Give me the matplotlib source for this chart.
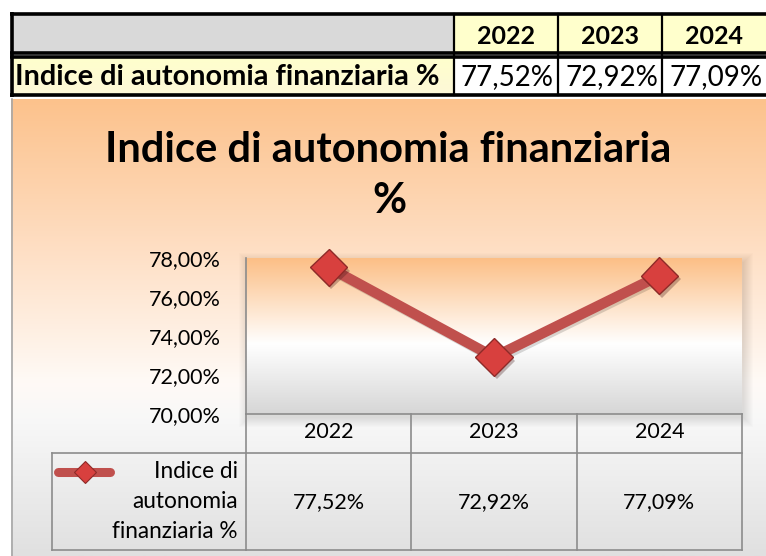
import numpy as np
import matplotlib
matplotlib.use('Agg')
import matplotlib.pyplot as plt
import matplotlib.patheffects as pe
from matplotlib.patches import Rectangle
from matplotlib.colors import to_rgb

plt.rcParams['font.family'] = ['Lato', 'DejaVu Sans']

# ─── Data ─────────────────────────────────────────────────────────────────────
years = ['2022', '2023', '2024']
values = [77.52, 72.92, 77.09]
series_name = 'Indice di autonomia finanziaria %'
title_lines = ['Indice di autonomia finanziaria', '%']
legend_lines = ['Indice di', 'autonomia', 'finanziaria %']
y_ticks = [70, 72, 74, 76, 78]

W, H = 766, 556


def pct(v):
    return f'{v:.2f}%'.replace('.', ',')


def ramp(stops, n=256):
    # vertical colour ramp, stops = [(pos, colour), ...]
    pos = [s[0] for s in stops]
    cols = np.array([to_rgb(s[1]) for s in stops])
    t = np.linspace(0, 1, n)
    rgb = np.stack([np.interp(t, pos, cols[:, i]) for i in range(3)], axis=1)
    return rgb[:, None, :]


fig = plt.figure(figsize=(W / 100, H / 100), dpi=100)
bg = fig.add_axes([0, 0, 1, 1])
bg.axis('off')

# ─── Chart area background ───────────────────────────────────────────────────
chart_grad = ramp([(0, '#fcc28c'), (0.3, '#fedcbf'), (0.62, '#fffaf6'),
                   (0.7, '#f8f8f8'), (1, '#e0e0e0')])
bg.imshow(chart_grad, extent=(11, W, H, 99), aspect='auto', origin='upper',
          zorder=0)
bg.plot([11.5, 11.5], [99, H], color='#a6a6a6', lw=1.2, zorder=1)

# soft shadow behind the plot area
px0, px1, py0, py1 = 246, 742, 258, 414
for k in range(10):
    bg.add_patch(Rectangle((px0 - k + 2, py0 - k + 4), (px1 - px0) + 2 * k,
                           (py1 - py0) + 2 * k, color='black', alpha=0.012,
                           lw=0, zorder=1))

# ─── Top table ───────────────────────────────────────────────────────────────
bg.add_patch(Rectangle((12, 14), 442, 39, color='#d9d9d9', lw=0, zorder=2))
col_x = [454, 558, 662, 772]
for i, yr in enumerate(years):
    bg.add_patch(Rectangle((col_x[i], 14), col_x[i + 1] - col_x[i], 39,
                           color='#ffffcc', lw=0, zorder=2))
    bg.add_patch(Rectangle((col_x[i], 57), col_x[i + 1] - col_x[i], 38,
                           color='white', lw=0, zorder=2))
    bg.text((col_x[i] + col_x[i + 1] - (6 if i == 2 else 0)) / 2, 36, yr,
            ha='center', va='center', fontsize=18, fontweight='bold', zorder=4)
    bg.text(min(col_x[i + 1] - 4, W - 3), 77, pct(values[i]), ha='right',
            va='center', fontsize=20, zorder=4)
lbl_grad = ramp([(0, '#ffffcc'), (1, '#fdf8d8')])
bg.imshow(lbl_grad, extent=(12, 454, 95, 57), aspect='auto', origin='upper',
          zorder=2)
bg.text(15, 77, series_name, ha='left', va='center', fontsize=20.8,
        fontweight='bold', zorder=4)

# black borders (double line between the two rows)
blk = dict(color='black', lw=2.6, zorder=3, solid_capstyle='butt')
bg.plot([10, W], [14, 14], **blk)
bg.plot([10, W], [53, 53], **blk)
bg.plot([10, W], [57, 57], **blk)
bg.plot([10, W], [95, 95], **blk)
bg.plot([12, 12], [12, 97], **blk)
for x in col_x[:3]:
    bg.plot([x, x], [14, 95], color='black', lw=1.6, zorder=3)

# ─── Title ───────────────────────────────────────────────────────────────────
bg.text(388, 150, title_lines[0], ha='center', va='center', fontsize=30,
        fontweight='bold', zorder=4)
bg.text(389, 201, title_lines[1], ha='center', va='center', fontsize=30,
        fontweight='bold', zorder=4)

bg.set_xlim(0, W)
bg.set_ylim(H, 0)

# ─── Plot area ───────────────────────────────────────────────────────────────
ax = fig.add_axes([px0 / W, 1 - py1 / H, (px1 - px0) / W, (py1 - py0) / H])
ax.set_xlim(-0.5, 2.5)
ax.set_ylim(70, 78)
plot_grad = ramp([(0, '#fcbf86'), (0.55, '#ffffff'), (1, '#d6d6d6')])
ax.imshow(plot_grad, extent=(-0.5, 2.5, 70, 78), aspect='auto',
          origin='upper', zorder=0)

x = np.arange(len(years))
ax.plot(x, values, color='#c0504d', lw=7.5, solid_capstyle='butt', zorder=3,
        path_effects=[pe.SimpleLineShadow(offset=(1.5, -1.5), alpha=0.15),
                      pe.Normal()])
ax.plot(x, values, linestyle='none', marker='D', ms=19, mfc='#d8403e',
        mec='#8e2a28', mew=1.0, zorder=4, clip_on=False,
        path_effects=[pe.SimplePatchShadow(offset=(2, -2.5), alpha=0.3),
                      pe.Normal()])

for s in ['top', 'right']:
    ax.spines[s].set_visible(False)
for s in ['left', 'bottom']:
    ax.spines[s].set_color('#8c8c8c')
    ax.spines[s].set_linewidth(1.2)

ax.set_yticks(y_ticks)
ax.set_yticklabels([pct(v) for v in y_ticks], fontsize=15.5)
ax.set_xticks(x)
ax.set_xticklabels(years, fontsize=15.5)
ax.tick_params(axis='y', length=0, pad=18)
ax.tick_params(axis='x', length=0, pad=6)

# ─── Data table under the plot ───────────────────────────────────────────────
trans = ax.get_xaxis_transform()
to_ax = lambda py: (py1 - py) / (py1 - py0)
grid = dict(color='#8c8c8c', lw=1.2, clip_on=False, transform=trans)
for xb in np.arange(len(years) + 1) - 0.5:
    ax.plot([xb, xb], [0, to_ax(550)], **grid)
ax.plot([-0.5, 2.5], [to_ax(453), to_ax(453)], **grid)
ax.plot([-0.5, 2.5], [to_ax(550), to_ax(550)], **grid)
for i, v in enumerate(values):
    ax.text(i, to_ax(502), pct(v), ha='center', va='center', fontsize=15.5,
            transform=trans)

# legend cell
bg.plot([52, 246], [453, 453], color='#8c8c8c', lw=1.2, zorder=2)
bg.plot([52, 246], [550, 550], color='#8c8c8c', lw=1.2, zorder=2)
bg.plot([52, 52], [453, 550], color='#8c8c8c', lw=1.2, zorder=2)
bg.plot([58, 110], [472, 472], color='#c0504d', lw=6.5, solid_capstyle='round',
        zorder=3)
bg.plot([85], [472], marker='D', ms=11, mfc='#d8403e', mec='#8e2a28',
        mew=0.8, zorder=4)
for j, t in enumerate(legend_lines):
    bg.text(238, 472 + 30 * j, t, ha='right', va='center', fontsize=16.3,
            zorder=4)

fig.savefig('out.png', dpi=100)
